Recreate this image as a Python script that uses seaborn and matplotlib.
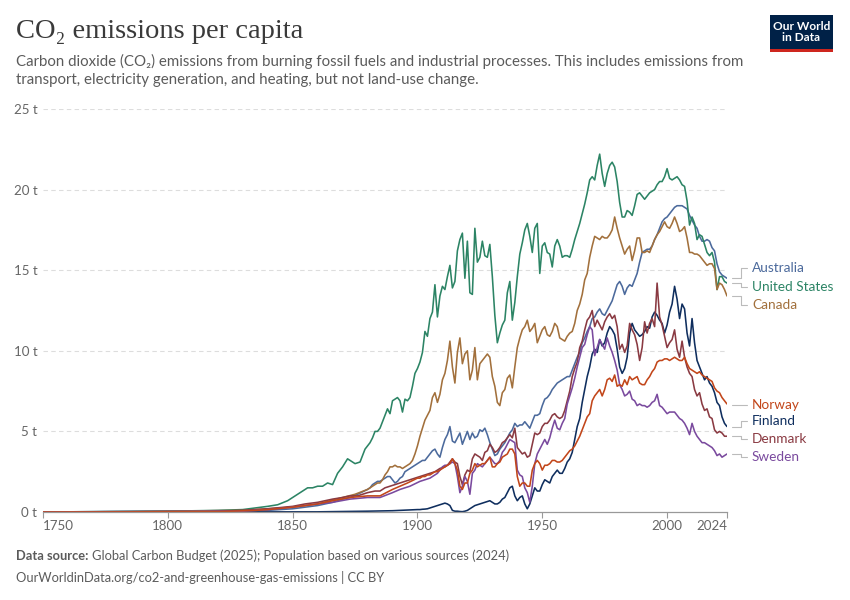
"""
CO2 emissions per capita - OWID style line chart
"""

import pandas as pd
import matplotlib
matplotlib.use("Agg")
import matplotlib.pyplot as plt
from matplotlib.lines import Line2D
from matplotlib.patches import Rectangle
import seaborn as sns

sns.set_theme(style="white")
plt.rcParams["font.family"] = ["Lato", "DejaVu Sans"]

# ── Data (tonnes CO2 per person) ──────────────────────────────────────────────

us_early_years = [1750, 1800, 1820, 1830, 1835, 1840, 1844, 1848, 1850, 1853, 1856, 1858,
                  1860, 1862, 1864, 1866, 1868, 1870, 1872, 1873, 1875, 1877, 1879]
us_early = [0, 0.05, 0.1, 0.15, 0.25, 0.35, 0.45, 0.7, 0.9, 1.2, 1.5, 1.5,
            1.6, 1.6, 1.8, 1.7, 2.4, 2.8, 3.3, 3.2, 3.0, 3.1, 3.9]
us_annual = [  # 1880-2024
    4.1, 4.3, 4.6, 5.0, 5.0, 5.2, 5.6, 6.0, 6.4, 6.1,
    6.9, 7.0, 7.1, 6.9, 6.2, 7.0, 6.9, 7.1, 7.8, 8.6,
    8.9, 9.3, 9.9, 11.2, 10.9, 12.0, 12.4, 14.1, 12.1, 13.4,
    14.0, 13.8, 14.6, 15.3, 13.9, 14.3, 16.2, 16.9, 17.3, 14.5,
    16.8, 13.6, 13.5, 17.6, 15.5, 15.8, 16.8, 15.9, 15.8, 16.6,
    14.6, 12.2, 10.5, 11.1, 11.6, 11.9, 13.6, 14.3, 11.9, 13.0,
    14.6, 16.0, 16.7, 17.5, 17.9, 17.1, 16.1, 17.6, 17.9, 14.8,
    16.5, 16.7, 16.1, 16.0, 15.2, 16.5, 16.9, 16.5, 15.8, 15.9,
    15.9, 15.8, 16.3, 16.9, 17.4, 17.9, 18.5, 19.1, 19.8, 20.6,
    20.8, 20.6, 21.5, 22.2, 21.0, 20.2, 21.0, 21.5, 21.7, 21.4,
    20.5, 19.2, 18.3, 18.3, 18.7, 18.6, 18.4, 19.0, 19.7, 19.8,
    19.6, 19.4, 19.6, 19.8, 19.9, 20.0, 20.3, 20.5, 20.5, 20.8,
    21.3, 20.7, 20.6, 20.7, 20.8, 20.6, 20.3, 20.2, 19.3, 17.8,
    18.3, 17.9, 16.9, 17.2, 17.1, 16.6, 16.1, 15.9, 16.1, 15.5,
    13.8, 14.6, 14.6, 14.3, 14.2,
]

au_early_years = [1750, 1840, 1850, 1855, 1860, 1866, 1870, 1873, 1876]
au_early = [0, 0.1, 0.2, 0.3, 0.4, 0.6, 0.8, 0.9, 1.1]
au_annual = [  # 1880-2024
    1.4, 1.5, 1.7, 1.8, 1.9, 1.9, 2.0, 2.1, 2.2, 2.2,
    2.0, 1.8, 1.9, 2.1, 2.2, 2.5, 2.6, 2.7, 2.8, 2.9,
    3.0, 3.1, 3.2, 3.2, 3.4, 3.6, 3.8, 3.9, 3.6, 3.4,
    4.0, 4.5, 4.8, 5.3, 4.4, 4.3, 4.6, 4.9, 4.2, 4.6,
    5.0, 4.5, 4.9, 4.6, 4.7, 5.1, 5.0, 5.2, 4.8, 4.3,
    3.9, 3.5, 3.6, 3.9, 4.1, 4.3, 4.6, 4.9, 5.1, 5.5,
    5.3, 5.4, 5.4, 5.6, 5.4, 5.2, 5.6, 6.0, 6.0, 6.1,
    6.6, 7.0, 7.1, 7.3, 7.6, 7.8, 8.0, 8.1, 8.2, 8.3,
    8.4, 8.4, 8.8, 9.2, 9.6, 9.9, 10.5, 10.8, 11.2, 11.5,
    12.0, 12.1, 12.4, 12.6, 12.3, 12.2, 12.5, 12.8, 13.1, 13.6,
    14.1, 14.3, 14.0, 13.5, 13.9, 14.1, 14.0, 14.4, 14.8, 15.5,
    16.1, 16.2, 16.3, 16.3, 16.5, 16.9, 17.2, 17.6, 18.0, 18.2,
    18.3, 18.5, 18.7, 18.9, 19.0, 19.0, 19.0, 18.9, 18.8, 18.4,
    18.1, 17.8, 17.6, 17.1, 16.8, 16.8, 16.9, 16.8, 16.4, 16.2,
    15.4, 14.9, 14.7, 14.6, 14.5,
]

ca_early_years = [1750, 1785, 1800, 1830, 1850, 1860, 1870, 1875]
ca_early = [0, 0.02, 0.05, 0.1, 0.3, 0.5, 0.9, 1.1]
ca_annual = [  # 1880-2024
    1.4, 1.5, 1.6, 1.7, 1.8, 1.8, 2.0, 2.3, 2.5, 2.8,
    2.8, 2.9, 2.8, 2.8, 2.7, 2.8, 2.9, 3.0, 3.2, 3.6,
    4.1, 4.7, 5.2, 5.7, 6.0, 6.3, 7.1, 7.4, 6.8, 7.3,
    8.2, 8.6, 9.4, 10.6, 9.0, 8.0, 9.9, 10.8, 9.2, 9.8,
    10.0, 8.2, 8.8, 10.2, 8.2, 9.2, 9.4, 9.6, 9.8, 9.6,
    8.4, 7.8, 6.8, 6.6, 7.4, 7.6, 8.3, 8.5, 7.7, 9.0,
    10.2, 10.8, 11.3, 11.5, 11.9, 11.2, 11.4, 11.7, 10.5, 10.9,
    11.3, 11.5, 11.0, 10.9, 11.2, 11.7, 11.5, 10.8, 10.7, 10.6,
    10.9, 11.1, 11.2, 11.7, 12.5, 12.9, 13.5, 14.4, 14.8, 15.8,
    16.5, 17.1, 17.0, 16.9, 17.1, 17.0, 17.0, 17.2, 17.5, 18.3,
    17.6, 17.0, 16.5, 16.0, 16.3, 16.5, 15.6, 16.2, 17.0, 17.0,
    16.1, 16.1, 16.2, 16.1, 16.5, 16.9, 17.2, 17.4, 17.7, 18.0,
    17.7, 17.6, 17.9, 18.3, 17.9, 17.4, 17.5, 17.7, 17.0, 16.1,
    16.1, 16.0, 16.0, 15.9, 15.7, 15.5, 15.3, 15.4, 15.4, 15.1,
    13.8, 14.2, 14.1, 13.8, 13.4,
]

no_early_years = [1750, 1820, 1835, 1840, 1850, 1860, 1866, 1873, 1880, 1885, 1890, 1893, 1896]
no_early = [0, 0.02, 0.1, 0.15, 0.3, 0.5, 0.7, 0.9, 1.0, 1.0, 1.4, 1.6, 1.8]
no_annual = [  # 1900-2024
    2.1, 2.1, 2.2, 2.2, 2.3, 2.3, 2.4, 2.5, 2.5, 2.6,
    2.7, 2.8, 2.9, 3.0, 3.3, 3.0, 2.6, 1.6, 1.4, 1.8,
    1.8, 2.4, 2.6, 3.0, 2.8, 2.9, 3.0, 3.0, 3.2, 3.4,
    2.8, 2.8, 3.0, 3.1, 3.4, 3.5, 3.6, 3.9, 3.9, 3.6,
    2.2, 1.6, 1.8, 1.8, 1.6, 1.6, 2.6, 3.0, 3.2, 3.0,
    2.6, 2.9, 2.9, 3.0, 3.2, 3.2, 3.1, 3.1, 3.2, 3.4,
    3.6, 3.8, 3.9, 4.1, 4.4, 4.7, 5.1, 5.5, 5.9, 6.1,
    6.9, 7.2, 7.4, 7.6, 7.2, 7.6, 8.2, 8.3, 8.1, 8.5,
    7.8, 7.9, 7.8, 8.2, 7.9, 8.4, 8.2, 8.3, 8.4, 8.0,
    7.9, 7.9, 8.2, 8.4, 8.7, 8.9, 9.3, 9.4, 9.4, 9.5,
    9.5, 9.4, 9.5, 9.6, 9.5, 9.4, 9.4, 9.6, 9.2, 8.9,
    8.8, 8.7, 8.6, 8.7, 8.5, 8.4, 8.3, 8.2, 8.1, 7.7,
    7.5, 7.4, 7.1, 6.9, 6.7,
]

fi_early_years = [1750, 1860, 1880, 1890]
fi_early = [0, 0.01, 0.05, 0.08]
fi_annual = [  # 1900-2024
    0.15, 0.15, 0.17, 0.18, 0.2, 0.25, 0.3, 0.35, 0.4, 0.45,
    0.5, 0.55, 0.5, 0.4, 0.1, 0.05, 0.05, 0.03, 0.02, 0.05,
    0.1, 0.2, 0.3, 0.4, 0.45, 0.5, 0.55, 0.6, 0.65, 0.7,
    0.6, 0.5, 0.5, 0.6, 0.8, 0.9, 1.2, 1.5, 1.6, 1.0,
    0.7, 0.9, 1.0, 0.5, 0.2, 0.5, 1.0, 1.5, 1.3, 1.3,
    1.7, 2.0, 1.9, 1.8, 2.2, 2.4, 2.6, 2.4, 2.4, 2.7,
    3.1, 3.3, 3.7, 4.5, 5.3, 5.8, 6.8, 7.6, 8.4, 9.0,
    9.8, 10.1, 9.9, 10.7, 10.3, 10.5, 11.1, 11.5, 11.3, 11.0,
    10.1, 9.0, 8.6, 8.9, 9.6, 11.1, 11.7, 11.3, 11.1, 10.9,
    11.0, 11.2, 11.5, 11.4, 12.1, 12.4, 12.2, 11.9, 11.7, 11.1,
    11.6, 12.4, 12.9, 14.0, 13.2, 12.0, 12.9, 12.6, 11.1, 10.3,
    12.0, 10.5, 9.4, 9.0, 8.6, 8.2, 8.4, 8.0, 7.8, 7.4,
    6.8, 6.6, 5.9, 5.5, 5.3,
]

dk_early_years = [1750, 1815, 1830, 1840, 1850, 1855, 1860, 1866, 1870, 1873, 1876, 1880,
                  1883, 1885, 1887, 1889, 1891, 1893, 1895, 1897, 1899, 1901, 1903, 1905,
                  1907, 1909, 1911]
dk_early = [0, 0.02, 0.1, 0.2, 0.35, 0.5, 0.6, 0.8, 0.9, 1.0, 1.0, 1.2,
            1.3, 1.3, 1.5, 1.6, 1.7, 1.8, 1.9, 2.0, 2.1, 2.2, 2.3, 2.4,
            2.5, 2.7, 2.8]
dk_annual = [  # 1912-2024
    2.9, 3.1, 3.3, 3.1, 3.0, 2.2, 1.7, 2.3, 2.6, 2.5,
    3.3, 3.6, 3.5, 3.4, 3.2, 3.7, 3.8, 4.2, 4.0, 3.7,
    3.8, 4.0, 4.3, 4.4, 4.6, 4.8, 4.6, 5.2, 4.0, 3.8,
    3.6, 3.7, 3.4, 3.5, 4.2, 4.9, 4.8, 4.9, 5.3, 5.5,
    5.5, 5.7, 6.0, 6.1, 5.9, 5.8, 5.9, 6.3, 6.9, 7.5,
    8.4, 8.9, 9.3, 10.2, 10.6, 11.3, 11.9, 12.1, 12.5, 11.5,
    11.9, 11.6, 11.3, 11.8, 12.1, 12.3, 12.0, 12.2, 11.5, 10.1,
    10.4, 9.9, 10.3, 11.7, 11.3, 11.0, 10.4, 9.4, 10.2, 11.8,
    11.1, 11.7, 12.0, 11.5, 14.2, 12.1, 11.6, 10.9, 10.2, 10.5,
    10.7, 11.3, 10.1, 9.6, 10.6, 9.6, 9.0, 8.6, 8.4, 7.6,
    7.2, 7.4, 6.7, 6.3, 6.4, 5.9, 5.8, 5.1, 4.9, 5.0,
    4.9, 4.7, 4.7,
]

se_early_years = [1750, 1830, 1840, 1850, 1860, 1866, 1873, 1880, 1885, 1890, 1893, 1897, 1901, 1905]
se_early = [0, 0.05, 0.15, 0.3, 0.5, 0.6, 0.8, 0.9, 0.9, 1.2, 1.4, 1.6, 1.9, 2.1]
se_annual = [  # 1908-2024
    2.4, 2.6, 2.8, 2.9, 2.9, 3.0, 3.1, 3.0, 2.2, 1.2,
    1.6, 2.2, 1.9, 1.1, 2.4, 2.6, 3.0, 2.9, 2.8, 3.0,
    3.2, 3.4, 3.2, 3.0, 3.0, 3.2, 3.7, 3.9, 4.2, 4.5,
    4.4, 4.3, 2.6, 2.3, 2.2, 1.5, 1.2, 0.6, 1.6, 3.0,
    3.6, 3.9, 4.2, 4.5, 4.2, 4.6, 5.2, 5.7, 5.2, 5.1,
    5.5, 5.8, 6.7, 7.2, 7.7, 8.3, 9.0, 9.6, 10.2, 10.4,
    11.0, 11.5, 11.3, 9.7, 10.2, 10.7, 10.4, 10.1, 10.8, 10.3,
    9.9, 9.4, 8.8, 7.9, 7.6, 7.2, 7.3, 7.5, 7.0, 6.9,
    6.6, 6.7, 6.6, 6.6, 6.5, 6.6, 6.8, 6.9, 7.3, 6.6,
    6.5, 6.3, 6.1, 6.2, 6.2, 6.2, 6.0, 5.8, 5.7, 5.5,
    5.2, 4.8, 5.5, 5.0, 4.7, 4.5, 4.3, 4.3, 4.2, 4.1,
    4.0, 3.8, 3.5, 3.6, 3.4, 3.5, 3.6,
]

series = {
    "Australia": (au_early_years + list(range(1880, 2025)), au_early + au_annual),
    "United States": (us_early_years + list(range(1880, 2025)), us_early + us_annual),
    "Canada": (ca_early_years + list(range(1880, 2025)), ca_early + ca_annual),
    "Finland": (fi_early_years + list(range(1900, 2025)), fi_early + fi_annual),
    "Denmark": (dk_early_years + list(range(1912, 2025)), dk_early + dk_annual),
    "Sweden": (se_early_years + list(range(1908, 2025)), se_early + se_annual),
    "Norway": (no_early_years + list(range(1900, 2025)), no_early + no_annual),
}

colors = {
    "Australia": "#4C6A9C",
    "United States": "#2C8465",
    "Canada": "#A2703C",
    "Norway": "#C2461A",
    "Finland": "#0F2E5E",
    "Denmark": "#8A3A42",
    "Sweden": "#7A4A9E",
}

# label rows on the right (pixel y from top)
label_y = {"Australia": 268, "United States": 287, "Canada": 305,
           "Norway": 405, "Finland": 421, "Denmark": 439, "Sweden": 457}

df = pd.concat(
    [pd.DataFrame({"year": yrs, "co2": vals, "country": name}) for name, (yrs, vals) in series.items()],
    ignore_index=True,
)

# ── Figure ────────────────────────────────────────────────────────────────────

W, H = 850, 600
fig = plt.figure(figsize=(W / 100, H / 100), dpi=100)
ax = fig.add_axes([43 / W, 1 - 512 / H, (727 - 43) / W, (512 - 109) / H])

sns.lineplot(data=df, x="year", y="co2", hue="country", hue_order=list(series.keys()),
             palette=colors, linewidth=1.15, legend=False, ax=ax, estimator=None)

ax.set_xlim(1750, 2024)
ax.set_ylim(0, 25)
ax.set_xlabel("")
ax.set_ylabel("")

ax.set_yticks([0, 5, 10, 15, 20, 25])
ax.set_yticklabels(["0 t", "5 t", "10 t", "15 t", "20 t", "25 t"])
for y in [5, 10, 15, 20, 25]:
    ax.axhline(y, color="#dddddd", linewidth=0.8, linestyle=(0, (4, 3)), zorder=0)

ax.set_xticks([1750, 1800, 1850, 1900, 1950, 2000, 2024])
ax.set_xticklabels(["1750", "1800", "1850", "1900", "1950", "2000", "2024"])
xt = ax.get_xticklabels()
xt[0].set_ha("left")
xt[-1].set_ha("right")

for s in ["top", "right", "left"]:
    ax.spines[s].set_visible(False)
ax.spines["bottom"].set_color("#999999")
ax.spines["bottom"].set_linewidth(0.9)
ax.tick_params(axis="x", colors="#999999", length=4, width=0.8, pad=2,
               labelsize=9.6, labelcolor="#666666", bottom=True)
ax.tick_params(axis="y", length=0, pad=4, labelsize=9.6, labelcolor="#666666")

# ── Right-hand labels with connectors ─────────────────────────────────────────

fig.canvas.draw()
for name, ly in label_y.items():
    yrs, vals = series[name]
    px, py = ax.transData.transform((yrs[-1], vals[-1]))
    line_y = H - py
    x0 = px + 5
    if abs(line_y - ly) < 2:
        xs, ys = [x0, 747], [ly, ly]
    else:
        elbow = 741
        xs, ys = [x0, elbow, elbow, 747], [line_y, line_y, ly, ly]
    fig.add_artist(Line2D([x / W for x in xs], [1 - y / H for y in ys],
                          transform=fig.transFigure, color="#bbbbbb", linewidth=0.8))
    fig.text(752 / W, 1 - ly / H, name, color=colors[name], fontsize=9.8, va="center", ha="left")

# ── Title, subtitle, footer ───────────────────────────────────────────────────

fig.text(16 / W, 1 - 32 / H, "CO₂ emissions per capita", family=["Liberation Serif", "DejaVu Serif"],
         fontsize=20.5, color="#3a3a3a", va="center", ha="left")
fig.text(16 / W, 1 - 61 / H,
         "Carbon dioxide (CO₂) emissions from burning fossil fuels and industrial processes. This includes emissions from",
         fontsize=10.8, color="#5b5b5b", va="center", ha="left")
fig.text(16 / W, 1 - 80 / H, "transport, electricity generation, and heating, but not land-use change.",
         fontsize=10.8, color="#5b5b5b", va="center", ha="left")

src = fig.text(16 / W, 1 - 556 / H, "Data source:", fontsize=9.3, fontweight="bold",
               color="#5b5b5b", va="center", ha="left")
fig.canvas.draw()
bb = src.get_window_extent()
fig.text((bb.x1 + 3) / W, 1 - 556 / H,
         "Global Carbon Budget (2025); Population based on various sources (2024)",
         fontsize=9.3, color="#5b5b5b", va="center", ha="left")
fig.text(16 / W, 1 - 577 / H, "OurWorldinData.org/co2-and-greenhouse-gas-emissions | CC BY",
         fontsize=9.3, color="#5b5b5b", va="center", ha="left")

# logo
fig.add_artist(Rectangle((770 / W, 1 - 49 / H), 63 / W, 34 / H, transform=fig.transFigure,
                         facecolor="#002147", edgecolor="none"))
fig.add_artist(Rectangle((770 / W, 1 - 52 / H), 63 / W, 3 / H, transform=fig.transFigure,
                         facecolor="#ce261e", edgecolor="none"))
fig.text(801.5 / W, 1 - 32 / H, "Our World\nin Data", family=["Lato", "DejaVu Sans"],
         fontsize=8.6, fontweight="bold", color="white", va="center", ha="center", linespacing=1.0)

fig.savefig("out.png", dpi=100)
plt.close(fig)
